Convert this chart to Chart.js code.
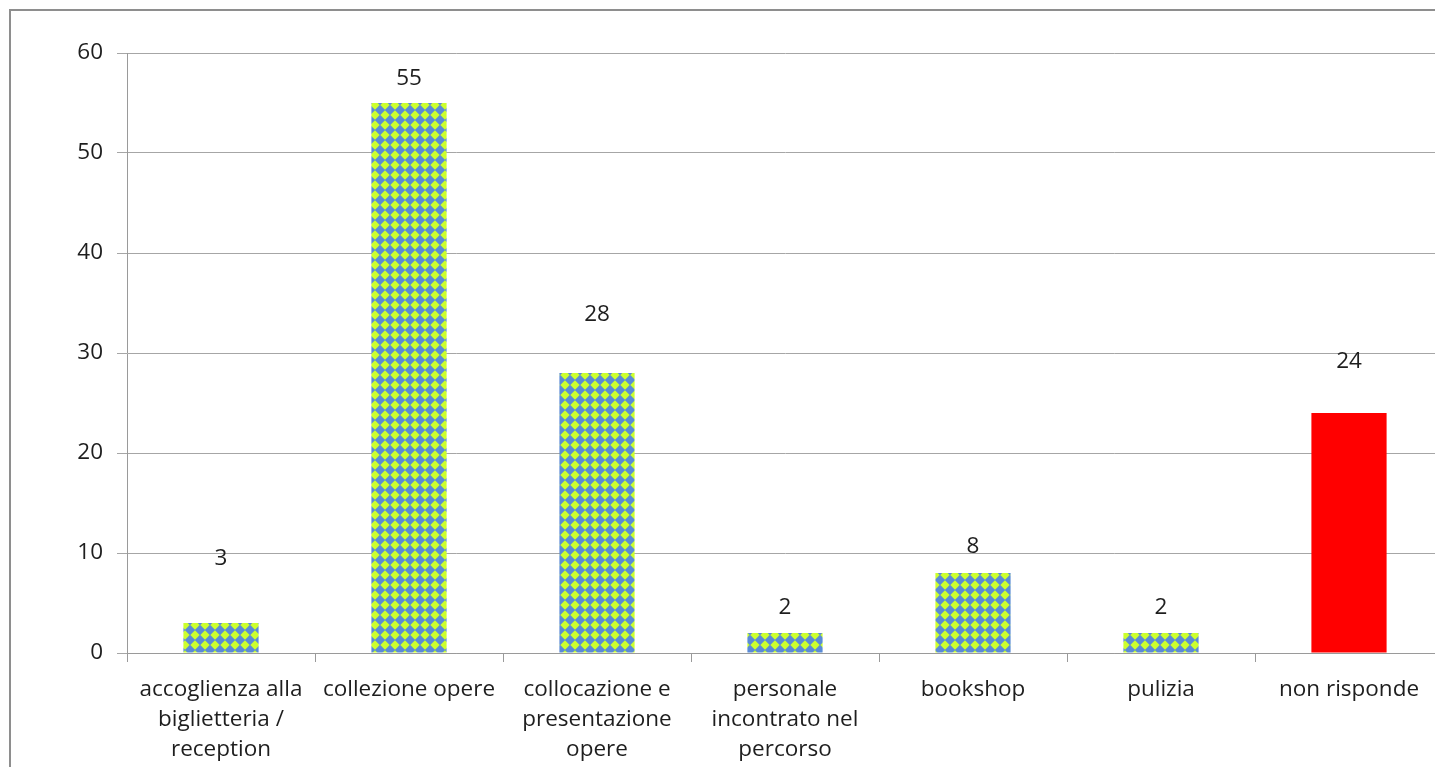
<!DOCTYPE html>
<html>
<head>
<meta charset="utf-8">
<title>Chart</title>
<script src="https://cdn.jsdelivr.net/npm/chart.js@4/dist/chart.umd.min.js"></script>
<style>
  html, body { margin: 0; padding: 0; background: #fff; overflow: hidden; }
  #frame {
    position: absolute; left: 9px; top: 9px;
    width: 1500px; height: 900px;
    border: 2px solid #8e8e8e;
  }
  #chart { position: absolute; left: 0; top: 0; }
</style>
</head>
<body>
<div id="frame"></div>
<canvas id="chart" width="1460" height="767"></canvas>
<script>
  const categories = [
    ['accoglienza alla', 'biglietteria /', 'reception'],
    'collezione opere',
    ['collocazione e', 'presentazione', 'opere'],
    ['personale', 'incontrato nel', 'percorso'],
    'bookshop',
    'pulizia',
    'non risponde'
  ];
  const values = [3, 55, 28, 2, 8, 2, 24];
  const yTicks = [0, 10, 20, 30, 40, 50, 60];

  // how far above each bar top the value label sits (as in the original)
  const labelLift = [64, 24, 58, 25, 26, 25, 51];

  const TEXT = '#1e1e1e';
  const FONT = { family: '"Open Sans", sans-serif', size: 22.5 };

  function diamondPattern() {
    const tile = document.createElement('canvas');
    tile.width = 10;
    tile.height = 10;
    const c = tile.getContext('2d');
    c.fillStyle = '#5a8bd6';
    c.fillRect(0, 0, 10, 10);
    c.fillStyle = '#ccff2e';
    c.beginPath();
    c.moveTo(5, 0.3);
    c.lineTo(9.7, 5);
    c.lineTo(5, 9.7);
    c.lineTo(0.3, 5);
    c.closePath();
    c.fill();
    return document.getElementById('chart').getContext('2d').createPattern(tile, 'repeat');
  }

  const pattern = diamondPattern();
  const fills = values.map((v, i) => (i === values.length - 1 ? '#ff0000' : pattern));

  const valueLabels = {
    id: 'valueLabels',
    afterDatasetsDraw(chart) {
      const ctx = chart.ctx;
      const meta = chart.getDatasetMeta(0);
      ctx.save();
      ctx.font = `${FONT.size}px ${FONT.family}`;
      ctx.fillStyle = TEXT;
      ctx.textAlign = 'center';
      ctx.textBaseline = 'middle';
      meta.data.forEach((bar, i) => {
        ctx.fillText(String(values[i]), bar.x, bar.y - labelLift[i]);
      });
      ctx.restore();
    }
  };

  new Chart(document.getElementById('chart'), {
    type: 'bar',
    data: {
      labels: categories,
      datasets: [{
        data: values,
        backgroundColor: fills,
        borderWidth: 0,
        barPercentage: 0.4,
        categoryPercentage: 1
      }]
    },
    options: {
      responsive: false,
      devicePixelRatio: 1,
      animation: false,
      layout: { padding: { left: 0, top: 53, right: 17, bottom: 0 } },
      plugins: {
        legend: { display: false },
        tooltip: { enabled: false }
      },
      scales: {
        x: {
          afterFit(scale) { scale.height = 114; },
          grid: {
            drawOnChartArea: false,
            drawTicks: true,
            tickLength: 9,
            color: '#9a9a9a'
          },
          border: { color: '#9a9a9a', width: 1 },
          ticks: {
            color: TEXT,
            font: { ...FONT, lineHeight: '30px' },
            padding: 13,
            maxRotation: 0,
            minRotation: 0,
            autoSkip: false
          }
        },
        y: {
          min: 0,
          max: 60,
          afterFit(scale) { scale.width = 127; },
          afterBuildTicks(scale) { scale.ticks = yTicks.map(v => ({ value: v })); },
          grid: {
            color: '#a6a6a6',
            tickLength: 10
          },
          border: { color: '#9a9a9a', width: 1 },
          ticks: {
            color: TEXT,
            font: FONT,
            padding: 14
          }
        }
      }
    },
    plugins: [valueLabels]
  });
</script>
</body>
</html>
